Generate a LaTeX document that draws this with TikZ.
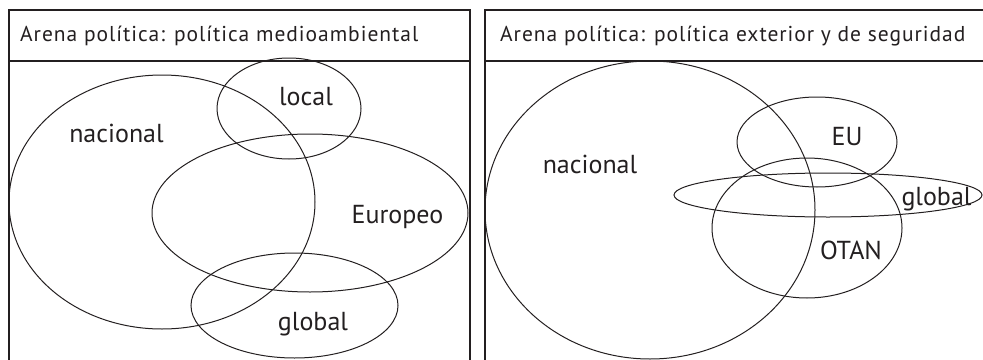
\documentclass[tikz,border=0pt]{standalone}
\usepackage{fontspec}
\setmainfont{PT Sans}
\newfontfamily\titlefont[LetterSpace=4.5]{PT Sans}
\usetikzlibrary{shapes.geometric}
\definecolor{ink}{HTML}{231F20}
\tikzset{
  frame/.style={draw=ink, line width=1.3pt},
  set/.style={draw=ink, line width=1pt, ellipse, inner sep=0pt},
  title/.style={text=ink, font=\titlefont\fontsize{21.5}{23}\selectfont, anchor=base west, inner sep=0pt},
  lbl/.style={text=ink, font=\fontsize{26}{28}\selectfont, anchor=base, inner sep=0pt},
}
\begin{document}
\begin{tikzpicture}[x=1pt,y=-1pt]
\useasboundingbox (0,0) rectangle (983,359);
% frames
\coordinate (l1) at (9,365); \coordinate (l2) at (9,10); \coordinate (l3) at (470,10); \coordinate (l4) at (470,365);
\coordinate (lh1) at (9,61); \coordinate (lh2) at (470,61);
\draw[frame] (l1) -- (l2) -- (l3) -- (l4);
\draw[frame] (lh1) -- (lh2);
\coordinate (r1) at (485,365); \coordinate (r2) at (485,10); \coordinate (r3) at (990,10);
\coordinate (rh1) at (485,61); \coordinate (rh2) at (990,61);
\draw[frame] (r1) -- (r2) -- (r3);
\draw[frame] (rh1) -- (rh2);
\node[title] (t1) at (20,41) {Arena política: política medioambiental};
\node[title] (t2) at (500,41) {Arena política: política exterior y de seguridad};
% left sets
\node[set, minimum width=306pt, minimum height=254pt] (nacL) at (162,202) {};
\node[set, minimum width=144pt, minimum height=101pt] (locL) at (289,108.5) {};
\node[set, minimum width=316pt, minimum height=158pt] (eurL) at (310,213) {};
\node[set, minimum width=207pt, minimum height=105pt] (gloL) at (294.5,305.5) {};
\node[lbl] (tnacL) at (116.5,142) {nacional};
\node[lbl] (tlocL) at (306,105) {local};
\node[lbl] (teurL) at (397.5,223) {Europeo};
\node[lbl] (tgloL) at (313,330) {global};
% right sets
\node[set, minimum width=330pt, minimum height=298pt] (nacR) at (650,210) {};
\node[set, minimum width=160pt, minimum height=90pt] (euR) at (817,142) {};
\node[set, minimum width=308pt, minimum height=44pt] (gloR) at (828,195) {};
\node[set, minimum width=190pt, minimum height=140pt] (otR) at (807,228) {};
\node[lbl] (tnacR) at (590,173) {nacional};
\node[lbl] (teuR) at (847,145) {EU};
\node[lbl] (tgloR) at (936.5,205) {global};
\node[lbl] (totR) at (851,259) {OTAN};
\end{tikzpicture}
\end{document}
